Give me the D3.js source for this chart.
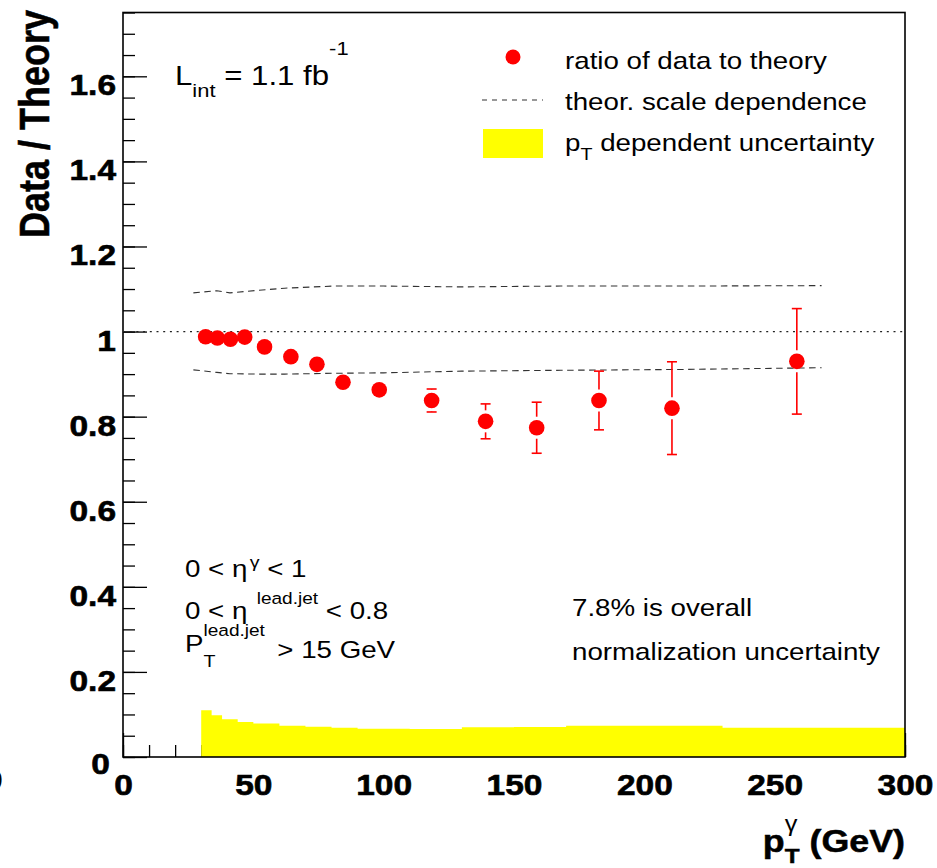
<!DOCTYPE html>
<html><head><meta charset="utf-8">
<script src="https://cdn.jsdelivr.net/npm/d3@7"></script>
<style>
body{margin:0;background:#fff}
svg{display:block}
text{font-family:"Liberation Sans",Arial,Helvetica,sans-serif;white-space:pre}
</style>
</head><body>
<svg id="c" width="937" height="868"></svg>
<script>
// ---------- data ----------
const ptX      = [31.7, 36.2, 41.2, 46.7, 54.3, 64.4, 74.4, 84.4, 98.3, 118.4, 139.1, 158.7, 182.6, 210.6, 258.5];
const ratio    = [0.988, 0.985, 0.982, 0.987, 0.964, 0.941, 0.923, 0.881, 0.863, 0.838, 0.789, 0.774, 0.838, 0.820, 0.930];
const ratioErr = [0.004, 0.004, 0.004, 0.005, 0.006, 0.007, 0.008, 0.010, 0.012, 0.027, 0.041, 0.060, 0.069, 0.109, 0.124];
const binEdges = [30, 34, 38, 44, 50, 60, 70, 80, 90, 110, 130, 150, 170, 200, 230, 300];
const ptUnc    = [0.110, 0.098, 0.089, 0.082, 0.079, 0.0736, 0.071, 0.069, 0.0665, 0.066, 0.0698, 0.0706, 0.0736, 0.0736, 0.069];
const theoX    = [27, 36, 41, 52, 62, 81, 100, 130, 168, 215, 268];
const theoUp   = [1.091, 1.096, 1.091, 1.097, 1.102, 1.107, 1.107, 1.105, 1.107, 1.107, 1.108];
const theoLow  = [0.910, 0.904, 0.901, 0.900, 0.900, 0.902, 0.903, 0.907, 0.909, 0.911, 0.915];
const yMajorTicks = [0, 0.2, 0.4, 0.6, 0.8, 1.0, 1.2, 1.4, 1.6];
const xMajorTicks = [0, 50, 100, 150, 200, 250, 300];
const legendLabels = ["ratio of data to theory", "theor. scale dependence", "dependent uncertainty"];

// ---------- layout ----------
const L = 123, R = 905, T = 12.5, B = 757;
const SX = 1.155; // horizontal text stretch of the original
const svg = d3.select("#c");
const x = d3.scaleLinear().domain([0, 300]).range([L, R]);
const y = d3.scaleLinear().domain([0, 1.75]).range([B, T]);

// rich text helper (parts with sub/sup and stacked indices)
function rich(parent, px, py, parts, opt) {
  opt = opt || {};
  const g = parent.append("g");
  const inner = g.append("g");
  let cx = 0;
  const mk = (q, xx) => {
    const t = inner.append("text")
      .attr("x", xx).attr("y", -(q.raise || 0))
      .style("font-size", q.size + "px")
      .style("font-weight", opt.bold && !q.normal ? "bold" : "normal")
      .attr("fill", "#000").text(q.t);
    if (opt.bold && !q.normal) t.attr("stroke", "#000").attr("stroke-width", 0.5);
    return t;
  };
  parts.forEach(p => {
    if (p.stack) {
      let w = 0;
      p.stack.forEach(q => {
        const t = mk(q, cx + (q.dx || 0));
        w = Math.max(w, t.node().getComputedTextLength() + (q.dx || 0));
      });
      cx += w;
    } else {
      cx += (p.dx || 0);
      const t = mk(p, cx);
      cx += t.node().getComputedTextLength();
    }
  });
  const shift = opt.anchor === "end" ? -cx : 0;
  inner.attr("transform", `translate(${shift},0)`);
  g.attr("transform", `translate(${px},${py}) scale(${SX},1)`);
  return g;
}

// ---------- x ticks (drawn first, covered by the yellow band) ----------
const xMinor = d3.range(0, 301, 10);
svg.append("g").attr("transform", `translate(0,${B})`)
  .call(d3.axisBottom(x).tickValues(xMinor).tickSize(-12).tickFormat(""))
  .call(g => g.select(".domain").remove())
  .call(g => g.selectAll("line").attr("stroke", "#000").attr("stroke-width", 1.3));
svg.append("g").attr("transform", `translate(0,${B})`)
  .call(d3.axisBottom(x).tickValues(xMajorTicks).tickSize(-24).tickFormat(""))
  .call(g => g.select(".domain").remove())
  .call(g => g.selectAll("line").attr("stroke", "#000").attr("stroke-width", 1.3));

// ---------- yellow pT dependent uncertainty ----------
const band = [];
ptUnc.forEach((v, i) => { band.push([binEdges[i], v]); band.push([binEdges[i + 1], v]); });
svg.append("path")
  .datum(band)
  .attr("fill", "#ffff00")
  .attr("d", d3.area().x(d => x(d[0])).y0(y(0)).y1(d => y(d[1])));

// ---------- y axis ticks ----------
const yMinor = d3.range(0, 1.7501, 0.05);
svg.append("g").attr("transform", `translate(${L},0)`)
  .call(d3.axisLeft(y).tickValues(yMinor).tickSize(-12).tickFormat(""))
  .call(g => g.select(".domain").remove())
  .call(g => g.selectAll("line").attr("stroke", "#000").attr("stroke-width", 1.3));
const yAx = svg.append("g").attr("transform", `translate(${L},0)`)
  .call(d3.axisLeft(y).tickValues(yMajorTicks).tickSize(-24).tickPadding(7)
    .tickFormat(d => d === 0 ? "0" : String(Math.round(d * 10) / 10)));
yAx.select(".domain").remove();
yAx.selectAll("line").attr("stroke", "#000").attr("stroke-width", 1.3);
yAx.selectAll("text")
  .attr("x", null).attr("dy", null)
  .attr("transform", d => `translate(${d === 0 ? -13 : -7},${d === 0 ? 16 : 18.5}) scale(${SX},1)`)
  .style("font-size", "29px").style("font-weight", "bold")
  .style("font-family", '"Liberation Sans",Arial,sans-serif')
  .attr("fill", "#000").attr("stroke", "#000").attr("stroke-width", 0.6);

// x tick labels
const xAx = svg.append("g").attr("transform", `translate(0,${B})`)
  .call(d3.axisBottom(x).tickValues(xMajorTicks).tickSize(0).tickFormat(d3.format("d")));
xAx.select(".domain").remove();
xAx.selectAll("text")
  .attr("y", null).attr("dy", null)
  .attr("transform", `translate(0,38) scale(${SX},1)`)
  .style("font-size", "29px").style("font-weight", "bold")
  .style("font-family", '"Liberation Sans",Arial,sans-serif')
  .attr("fill", "#000").attr("stroke", "#000").attr("stroke-width", 0.6);

// stray clipped label at the far left
svg.append("text").attr("transform", `translate(3,790) scale(${SX},1)`)
  .attr("text-anchor", "end").style("font-size", "29px").style("font-weight", "bold").text("0");

// ---------- frame ----------
svg.append("rect").attr("x", L).attr("y", T).attr("width", R - L).attr("height", B - T)
  .attr("fill", "none").attr("stroke", "#000").attr("stroke-width", 1.6);

// ---------- theory scale dependence ----------
const line = d3.line().x(d => x(d[0])).y(d => y(d[1]));
[theoUp, theoLow].forEach(arr => {
  svg.append("path").datum(theoX.map((v, i) => [v, arr[i]]))
    .attr("fill", "none").attr("stroke", "#333").attr("stroke-width", 1.1)
    .attr("stroke-dasharray", "6.5,4.5").attr("d", line);
});

// dotted line at 1
svg.append("line").attr("x1", x(0)).attr("x2", x(300)).attr("y1", y(1)).attr("y2", y(1))
  .attr("stroke", "#222").attr("stroke-width", 1.3).attr("stroke-dasharray", "2,4.7");

// ---------- data points ----------
const GAP = 11, CAP = 5;
const pts = svg.append("g");
ptX.forEach((px, i) => {
  const cx = x(px), cy = y(ratio[i]);
  const yt = y(ratio[i] + ratioErr[i]), yb = y(ratio[i] - ratioErr[i]);
  if (cy - yt > GAP) {
    pts.append("line").attr("x1", cx).attr("x2", cx).attr("y1", yt).attr("y2", cy - GAP)
      .attr("stroke", "#ff0000").attr("stroke-width", 1.6);
    pts.append("line").attr("x1", cx).attr("x2", cx).attr("y1", cy + GAP).attr("y2", yb)
      .attr("stroke", "#ff0000").attr("stroke-width", 1.6);
  }
  if (cy - yt > 8) {
    [yt, yb].forEach(v => pts.append("line").attr("x1", cx - CAP).attr("x2", cx + CAP)
      .attr("y1", v).attr("y2", v).attr("stroke", "#ff0000").attr("stroke-width", 1.6));
  }
  pts.append("circle").attr("cx", cx).attr("cy", cy).attr("r", 7.8).attr("fill", "#ff0000");
});

// ---------- legend ----------
const lg = svg.append("g");
lg.append("circle").attr("cx", 513).attr("cy", 57).attr("r", 7.5).attr("fill", "#ff0000");
lg.append("line").attr("x1", 482).attr("x2", 543).attr("y1", 100).attr("y2", 100)
  .attr("stroke", "#333").attr("stroke-width", 1.1).attr("stroke-dasharray", "5,5");
lg.append("rect").attr("x", 483).attr("y", 129).attr("width", 60).attr("height", 29).attr("fill", "#ffff00");
rich(lg, 565, 69, [{t: legendLabels[0], size: 24}]);
rich(lg, 565, 110, [{t: legendLabels[1], size: 24}]);
rich(lg, 565, 151, [{t: "p", size: 24}, {t: "T", size: 17, raise: -9}, {t: " " + legendLabels[2], size: 24, dx: 0}]);

// ---------- annotations ----------
rich(svg, 175, 85, [{t: "L", size: 27}, {t: "int", size: 19, raise: -12}, {t: " = 1.1 fb", size: 27}, {t: "-1", size: 19, raise: 30}]);
rich(svg, 185, 577, [{t: "0 < η", size: 24}, {t: "γ", size: 17, raise: 9, dx: 2}, {t: " < 1", size: 24}]);
rich(svg, 185, 619, [{t: "0 < η", size: 24}, {t: "lead.jet", size: 16.5, raise: 15, dx: 8}, {t: " < 0.8", size: 24}]);
rich(svg, 185, 658, [{t: "P", size: 24, raise: 6},
  {stack: [{t: "T", size: 17, raise: -9}, {t: "lead.jet", size: 16.5, raise: 22}]},
  {t: " > 15 GeV", size: 24, dx: 4}]);
rich(svg, 572, 616, [{t: "7.8% is overall", size: 24}]);
rich(svg, 572, 660, [{t: "normalization uncertainty", size: 24}]);

// ---------- axis titles ----------
svg.append("text")
  .attr("transform", `translate(49,10) scale(${SX},1) rotate(-90)`)
  .attr("text-anchor", "end").style("font-size", "36px").style("font-weight", "bold")
  .attr("fill", "#000").attr("stroke", "#000").attr("stroke-width", 0.5).text("Data / Theory");
rich(svg, 905, 852, [{t: "p", size: 31},
  {stack: [{t: "T", size: 21, raise: -11}, {t: "γ", size: 22, raise: 21, normal: true}]},
  {t: " (GeV)", size: 31}], {bold: true, anchor: "end"});
</script>
</body></html>
